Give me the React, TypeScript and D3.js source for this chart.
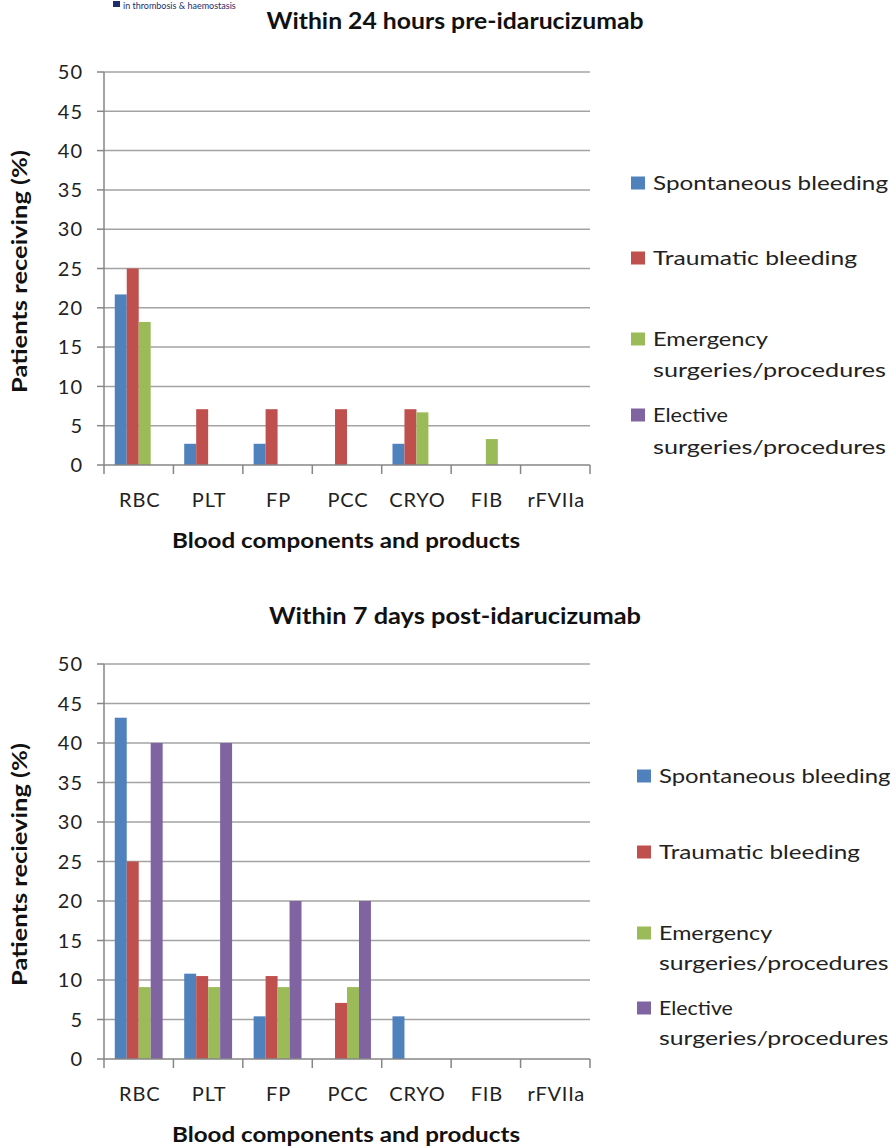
import React from "react";
import * as d3 from "d3";

const categories = ["RBC", "PLT", "FP", "PCC", "CRYO", "FIB", "rFVIIa"];
const seriesNames = [
  "Spontaneous bleeding",
  "Traumatic bleeding",
  "Emergency surgeries/procedures",
  "Elective surgeries/procedures",
];
const seriesColors = ["#4F81BD", "#C0504D", "#9BBB59", "#8064A2"];

// Within 24 hours pre-idarucizumab
const preSpontaneous = [21.7, 2.7, 2.7, 0, 2.7, 0, 0];
const preTraumatic = [25, 7.1, 7.1, 7.1, 7.1, 0, 0];
const preEmergency = [18.2, 0, 0, 0, 6.7, 3.3, 0];
const preElective = [0, 0, 0, 0, 0, 0, 0];

// Within 7 days post-idarucizumab
const postSpontaneous = [43.2, 10.8, 5.4, 0, 5.4, 0, 0];
const postTraumatic = [25, 10.5, 10.5, 7.1, 0, 0, 0];
const postEmergency = [9.1, 9.1, 9.1, 9.1, 0, 0, 0];
const postElective = [40, 40, 20, 20, 0, 0, 0];

const yTicks = [0, 5, 10, 15, 20, 25, 30, 35, 40, 45, 50];

const FONT = "Lato, 'Open Sans', sans-serif";

// legend line widths (text layout)
const legendLineLengths: Record<string, number> = {
  "Spontaneous bleeding": 235,
  "Traumatic bleeding": 204,
  Emergency: 115,
  Elective: 75,
  "surgeries/procedures": 233,
};

type PanelProps = {
  title: string;
  titleLength: number;
  yTitle: string;
  series: number[][];
  top: number;
  bottom: number;
  titleY: number;
  legendX: number;
  legendScale: number;
  legendYs: number[][];
};

function Panel({
  title,
  titleLength,
  yTitle,
  series,
  top,
  bottom,
  titleY,
  legendX,
  legendScale,
  legendYs,
}: PanelProps) {
  const x0 = d3.scaleBand<string>().domain(categories).range([104, 590]).padding(0);
  const x1 = d3
    .scaleBand<string>()
    .domain(seriesNames)
    .range([0, x0.bandwidth()])
    .paddingInner(0)
    .paddingOuter(0.9);
  const y = d3.scaleLinear().domain([0, 50]).range([bottom, top]);
  const xLeft = x0.range()[0];
  const xRight = x0.range()[1];
  const boundaries = categories.map((c) => x0(c) as number).concat([xRight]);

  return (
    <g>
      <text
        x={455}
        y={titleY}
        dy="0.36em"
        textAnchor="middle"
        fontFamily={FONT}
        fontWeight="bold"
        fontSize={22}
        textLength={titleLength}
        lengthAdjust="spacingAndGlyphs"
        fill="#111"
      >
        {title}
      </text>
      {yTicks.map((t) => (
        <g key={t}>
          {t > 0 && (
            <line x1={xLeft} x2={xRight} y1={y(t)} y2={y(t)} stroke="#a3a3a3" strokeWidth={1.5} />
          )}
          <line x1={xLeft - 7} x2={xLeft} y1={y(t)} y2={y(t)} stroke="#868686" strokeWidth={1.5} />
          <text
            x={83}
            y={y(t)}
            dy="0.36em"
            textAnchor="end"
            fontFamily={FONT}
            fontSize={20}
            letterSpacing={1}
            fill="#222"
          >
            {t}
          </text>
        </g>
      ))}
      {series.map((vals, si) =>
        vals.map((v, ci) =>
          v > 0 ? (
            <rect
              key={`${si}-${ci}`}
              x={(x0(categories[ci]) as number) + (x1(seriesNames[si]) as number)}
              y={y(v)}
              width={x1.bandwidth()}
              height={y(0) - y(v)}
              fill={seriesColors[si]}
            />
          ) : null
        )
      )}
      <line x1={xLeft} x2={xLeft} y1={y(50)} y2={y(0)} stroke="#868686" strokeWidth={1.5} />
      <line x1={xLeft} x2={xRight} y1={y(0)} y2={y(0)} stroke="#868686" strokeWidth={1.5} />
      {boundaries.map((b, i) => (
        <line key={i} x1={b} x2={b} y1={y(0)} y2={y(0) + 9} stroke="#868686" strokeWidth={1.5} />
      ))}
      {categories.map((c) => (
        <text
          key={c}
          x={(x0(c) as number) + x0.bandwidth() / 2 + 1}
          y={y(0) + 35}
          dy="0.36em"
          textAnchor="middle"
          fontFamily={FONT}
          fontSize={20}
          letterSpacing={0.8}
          fill="#222"
        >
          {c}
        </text>
      ))}
      <text
        x={346}
        y={y(0) + 76}
        dy="0.36em"
        textAnchor="middle"
        fontFamily={FONT}
        fontWeight="bold"
        fontSize={20}
        textLength={348}
        lengthAdjust="spacingAndGlyphs"
        fill="#111"
      >
        Blood components and products
      </text>
      <text
        transform={`translate(20,${(y(0) + y(50)) / 2 + 3}) rotate(-90)`}
        textAnchor="middle"
        dy="0.36em"
        fontFamily={FONT}
        fontWeight="bold"
        fontSize={20}
        textLength={243}
        lengthAdjust="spacingAndGlyphs"
        fill="#111"
      >
        {yTitle}
      </text>
      {seriesNames.map((name, i) => {
        const lines = i < 2 ? [name] : [name.split(" ")[0], name.split(" ").slice(1).join(" ")];
        const ys = legendYs[i];
        return (
          <g key={name}>
            <rect x={legendX} y={ys[0] - 6.5} width={14} height={13} fill={seriesColors[i]} />
            {lines.map((ln, li) => (
              <text
                key={li}
                x={legendX + 22}
                y={ys[li]}
                dy="0.36em"
                fontFamily={FONT}
                fontSize={20}
                textLength={legendLineLengths[ln] * legendScale}
                lengthAdjust="spacingAndGlyphs"
                fill="#222"
              >
                {ln}
              </text>
            ))}
          </g>
        );
      })}
    </g>
  );
}

export default function App() {
  return (
    <svg
      width={891}
      height={1147}
      style={{ position: "absolute", left: 0, top: 0, background: "#fff" }}
    >
      <rect x={0} y={0} width={891} height={1147} fill="#fff" />
      <rect x={113} y={1} width={7} height={6} fill="#1f2d6b" />
      <text x={123} y={9} fontFamily={FONT} fontSize={9} fill="#1f2d6b">
        in thrombosis &amp; haemostasis
      </text>
      <Panel
        title="Within 24 hours pre-idarucizumab"
        titleLength={377}
        yTitle="Patients receiving (%)"
        series={[preSpontaneous, preTraumatic, preEmergency, preElective]}
        top={72}
        bottom={465}
        titleY={21}
        legendX={631}
        legendScale={1}
        legendYs={[[183], [258], [339, 370], [415, 447]]}
      />
      <Panel
        title="Within 7 days post-idarucizumab"
        titleLength={372}
        yTitle="Patients recieving (%)"
        series={[postSpontaneous, postTraumatic, postEmergency, postElective]}
        top={664}
        bottom={1059}
        titleY={616}
        legendX={637}
        legendScale={0.985}
        legendYs={[[776], [852], [933, 963], [1008, 1038]]}
      />
    </svg>
  );
}
